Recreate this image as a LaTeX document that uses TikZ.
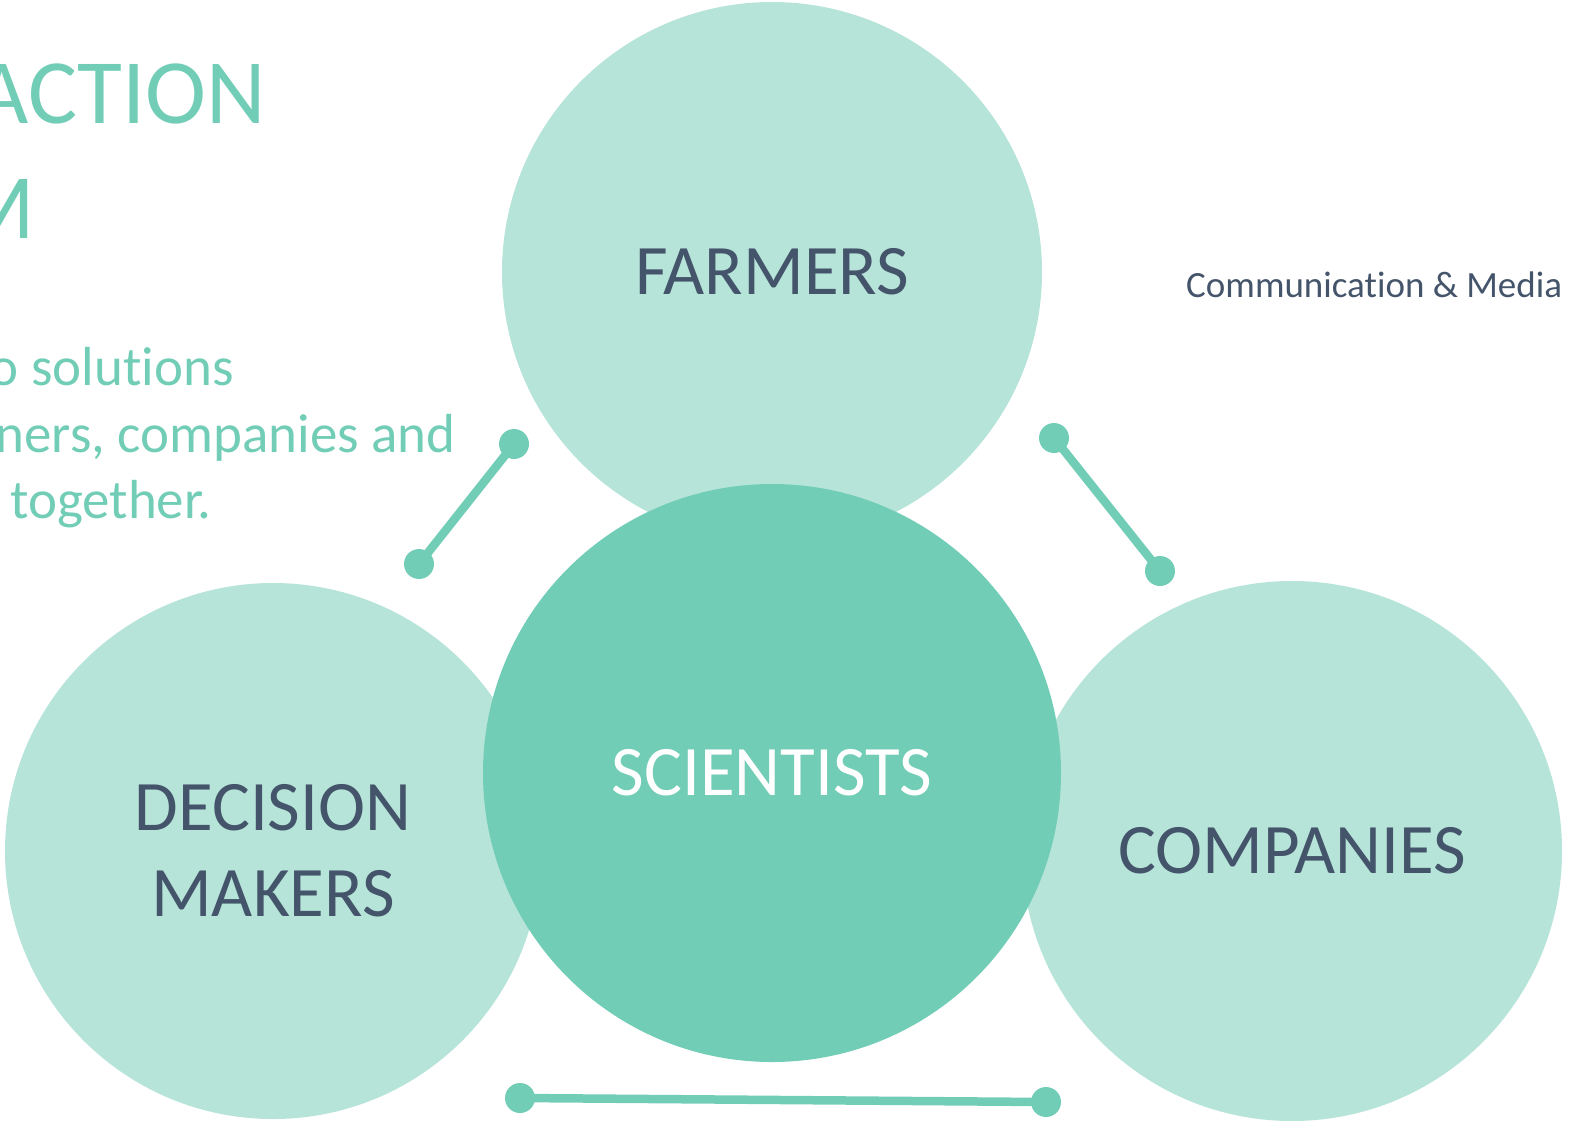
\documentclass[tikz,border=0pt]{standalone}
\usepackage{fontspec}
\setmainfont{Carlito}[Ligatures=NoCommon]
\definecolor{lightteal}{HTML}{B7E4D9}
\definecolor{darkteal}{HTML}{72CDB7}
\definecolor{slate}{HTML}{44546A}
\tikzset{
  bigcircle/.style={circle, fill=lightteal, draw=none, inner sep=0pt, text=slate, align=center, font=\fontsize{71}{86}\selectfont},
  dot/.style={circle, fill=darkteal, draw=none, inner sep=0pt, minimum size=30pt},
  conn/.style={draw=darkteal, line width=8.5pt},
  tealtext/.style={text=darkteal, inner sep=0pt},
  bodytext/.style={tealtext, anchor=base east, font=\fontsize{55}{66}\selectfont},
}
\begin{document}
\begin{tikzpicture}[x=1pt,y=-1pt]
\useasboundingbox (0,0) rectangle (1570,1120);
% outer circles
\node[bigcircle, minimum size=540pt] (farmers) at (772,272) {FARMERS};
\node[bigcircle, minimum size=536pt] (decision) at (273,851) {DECISION\\MAKERS};
\node[bigcircle, minimum size=540pt] (companies) at (1292,851) {COMPANIES};
% centre circle
\node[bigcircle, fill=darkteal, text=white, minimum size=578pt] (scientists) at (772,773) {SCIENTISTS};
% title and body text (cut at left edge, as in the reference)
\node[tealtext, anchor=base east, font=\fontsize{92}{112}\selectfont] (t1) at (266,123) {ACTION};
\node[tealtext, anchor=base east, font=\fontsize{92}{112}\selectfont] (t2) at (35,238) {M};
\node[bodytext] (b1) at (234,385) {o solutions};
\node[bodytext] (b2) at (456,452) {ners, companies and};
\node[bodytext] (b3) at (212,518) {together.};
% side label
\node[text=slate, inner sep=0pt, anchor=base west, font=\fontsize{37}{44}\selectfont] (media) at (1186,297) {Communication \& Media};
% connectors
\node[dot] (d1) at (419,564) {};
\node[dot] (d2) at (514,444) {};
\node[dot] (d3) at (1054,438) {};
\node[dot] (d4) at (1160,571) {};
\node[dot] (d5) at (520,1098) {};
\node[dot] (d6) at (1046,1102) {};
\draw[conn] (d1.center) -- (d2.center);
\draw[conn] (d3.center) -- (d4.center);
\draw[conn] (d5.center) -- (d6.center);
\end{tikzpicture}
\end{document}
